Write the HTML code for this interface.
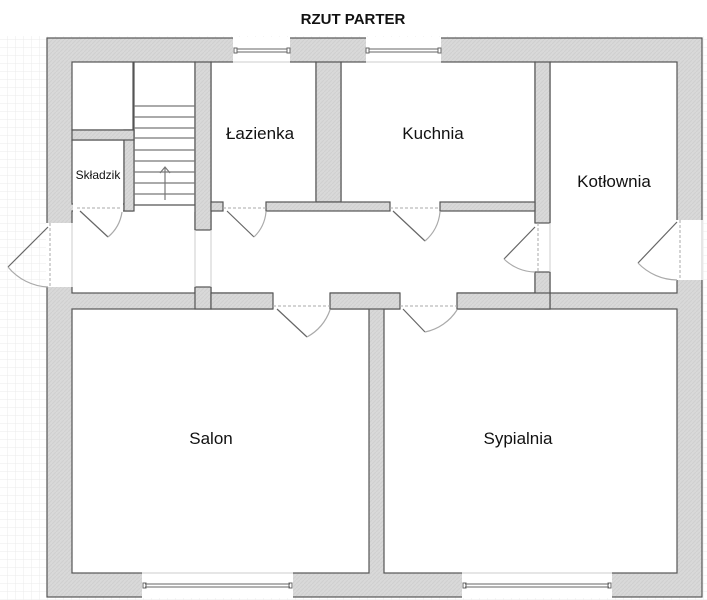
<!DOCTYPE html>
<html><head><meta charset="utf-8"><style>
html,body{margin:0;padding:0;background:#fff}
svg{display:block}
text{font-family:"Liberation Sans",sans-serif;fill:#111}
</style></head><body>
<svg width="707" height="600" viewBox="0 0 707 600" xmlns="http://www.w3.org/2000/svg">
<defs>
<pattern id="g" width="8" height="8" patternUnits="userSpaceOnUse">
<path d="M8 0V8M0 8H8" stroke="#ebebeb" stroke-width="1" fill="none"/>
</pattern>
<pattern id="h" width="4" height="4" patternUnits="userSpaceOnUse">
<rect width="4" height="4" fill="#d9d9d9"/>
<path d="M0 4L4 0" stroke="#cfcfcf" stroke-width="1"/>
</pattern>
</defs>
<rect x="0" y="36" width="707" height="564" fill="url(#g)"/>
<text x="353" y="24" font-size="15" font-weight="bold" text-anchor="middle">RZUT PARTER</text>

<rect x="47" y="38" width="655" height="559" fill="url(#h)" stroke="#555" stroke-width="1.2"/>

<g fill="#fff" stroke="#555" stroke-width="1.2">
<rect x="72" y="62" width="61" height="68"/>
<rect x="72" y="140" width="52" height="64"/>
<rect x="134" y="62" width="61" height="149"/>
<rect x="211" y="62" width="105" height="140"/>
<rect x="341" y="62" width="194" height="140"/>
<rect x="550" y="62" width="127" height="231"/>
<rect x="72" y="211" width="123" height="82"/>
<rect x="211" y="211" width="324" height="82"/>
<rect x="72" y="309" width="297" height="264"/>
<rect x="384" y="309" width="293" height="264"/>
</g>
<g fill="#fff">
<rect x="73" y="203" width="50" height="9"/>
<rect x="133" y="205" width="62" height="7"/>
<rect x="194" y="230" width="18" height="57"/>
<rect x="212" y="201" width="323" height="11"/>
<rect x="534" y="223" width="17" height="49"/>
<rect x="273" y="292" width="57" height="18"/>
<rect x="400" y="292" width="57" height="18"/>
<rect x="46" y="223" width="27" height="64"/>
<rect x="676" y="220" width="27" height="60"/>
<rect x="233" y="37" width="57" height="26"/>
<rect x="366" y="37" width="75" height="26"/>
<rect x="142" y="572" width="151" height="26"/>
<rect x="462" y="572" width="150" height="26"/>
</g>
<g fill="url(#h)" stroke="#555" stroke-width="1.2">
<rect x="124" y="130" width="10" height="81"/>
<rect x="72" y="130" width="62" height="10"/>
<rect x="195" y="62" width="16" height="168"/>
<rect x="195" y="287" width="16" height="22"/>
<rect x="316" y="62" width="25" height="140"/>
<rect x="535" y="62" width="15" height="161"/>
<rect x="535" y="272" width="15" height="37"/>
<rect x="211" y="202" width="12" height="9"/>
<rect x="266" y="202" width="124" height="9"/>
<rect x="440" y="202" width="95" height="9"/>
<rect x="211" y="293" width="62" height="16"/>
<rect x="330" y="293" width="70" height="16"/>
<rect x="457" y="293" width="93" height="16"/>
</g>
<g stroke="#777" stroke-width="1.2">
<line x1="134" y1="106" x2="195" y2="106"/><line x1="134" y1="117" x2="195" y2="117"/>
<line x1="134" y1="128" x2="195" y2="128"/><line x1="134" y1="138" x2="195" y2="138"/>
<line x1="134" y1="150" x2="195" y2="150"/><line x1="134" y1="161" x2="195" y2="161"/>
<line x1="134" y1="172" x2="195" y2="172"/><line x1="134" y1="183" x2="195" y2="183"/>
<line x1="134" y1="194" x2="195" y2="194"/>
<line x1="134" y1="205" x2="195" y2="205" stroke="#555"/>
<line x1="165" y1="168" x2="165" y2="200"/>
<path d="M160 173L165 167L170 173" fill="none"/>
</g>
<g stroke="#666" stroke-width="1" fill="none">
<line x1="237" y1="49" x2="287" y2="49"/><line x1="237" y1="52" x2="287" y2="52"/>
<line x1="369" y1="49" x2="438" y2="49"/><line x1="369" y1="52" x2="438" y2="52"/>
<line x1="145" y1="584" x2="290" y2="584"/><line x1="145" y1="587" x2="290" y2="587"/>
<line x1="465" y1="584" x2="609" y2="584"/><line x1="465" y1="587" x2="609" y2="587"/>
<rect x="234" y="48" width="3" height="5"/><rect x="287" y="48" width="3" height="5"/>
<rect x="366" y="48" width="3" height="5"/><rect x="438" y="48" width="3" height="5"/>
<rect x="143" y="583" width="3" height="5"/><rect x="289" y="583" width="3" height="5"/>
<rect x="463" y="583" width="3" height="5"/><rect x="608" y="583" width="3" height="5"/>
<line x1="233" y1="62" x2="290" y2="62" stroke="#ccc"/><line x1="366" y1="62" x2="441" y2="62" stroke="#ccc"/>
<line x1="142" y1="573" x2="293" y2="573" stroke="#ccc"/><line x1="462" y1="573" x2="612" y2="573" stroke="#ccc"/>
</g>
<g stroke="#666" stroke-width="1.2" fill="none">
<line x1="80" y1="211" x2="108" y2="237"/><path d="M122 212A40 40 0 0 1 108 237" stroke="#aaa"/>
<line x1="227" y1="211" x2="254" y2="237"/><path d="M266 212A40 40 0 0 1 254 237" stroke="#aaa"/>
<line x1="393" y1="211" x2="425" y2="241"/><path d="M440 212A44 44 0 0 1 425 241" stroke="#aaa"/>
<line x1="277" y1="309" x2="307" y2="337"/><path d="M330 310A50 50 0 0 1 307 337" stroke="#aaa"/>
<line x1="403" y1="309" x2="425" y2="332"/><path d="M457 310A50 50 0 0 1 425 332" stroke="#aaa"/>
<line x1="535" y1="227" x2="504" y2="259"/><path d="M504 259A45 45 0 0 0 535 272" stroke="#aaa"/>
<line x1="677" y1="222" x2="638" y2="263"/><path d="M638 263A55 55 0 0 0 677 280" stroke="#aaa"/>
<line x1="48" y1="227" x2="8" y2="267"/><path d="M8 267A55 55 0 0 0 48 287" stroke="#aaa"/>
</g>
<g stroke="#aaa" stroke-width="1" stroke-dasharray="3,2" fill="none">
<line x1="77" y1="208" x2="122" y2="208"/><line x1="223" y1="208" x2="266" y2="208"/>
<line x1="390" y1="208" x2="440" y2="208"/><line x1="273" y1="306" x2="330" y2="306"/>
<line x1="400" y1="306" x2="457" y2="306"/><line x1="538" y1="223" x2="538" y2="272"/>
<line x1="680" y1="220" x2="680" y2="280"/><line x1="50" y1="223" x2="50" y2="287"/>
</g>
<g stroke="#ccc" stroke-width="1">
<line x1="195" y1="230" x2="195" y2="287"/><line x1="211" y1="230" x2="211" y2="287"/>
<line x1="550" y1="223" x2="550" y2="272"/><line x1="72" y1="223" x2="72" y2="287"/>
<line x1="702" y1="220" x2="702" y2="280"/>
</g>
<text x="260" y="139" font-size="17" text-anchor="middle">Łazienka</text>
<text x="433" y="139" font-size="17" text-anchor="middle">Kuchnia</text>
<text x="614" y="187" font-size="17" text-anchor="middle">Kotłownia</text>
<text x="98" y="179" font-size="12" text-anchor="middle">Składzik</text>
<text x="211" y="444" font-size="17" text-anchor="middle">Salon</text>
<text x="518" y="444" font-size="17" text-anchor="middle">Sypialnia</text>
</svg>
</body></html>
